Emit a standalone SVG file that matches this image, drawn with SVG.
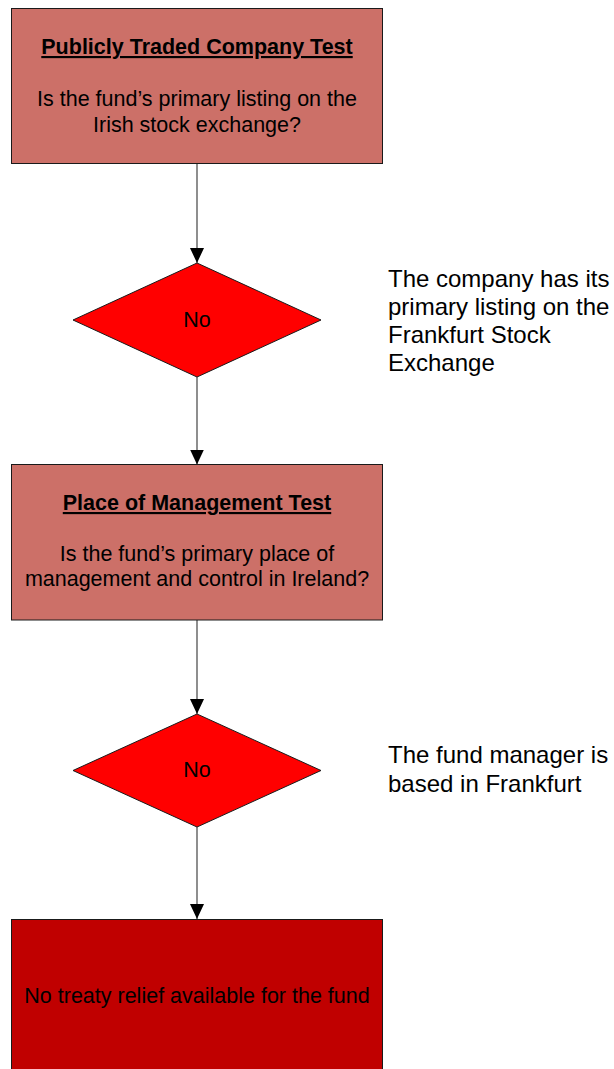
<svg xmlns="http://www.w3.org/2000/svg" width="614" height="1069" viewBox="0 0 614 1069">
<style>
text{font-family:"Liberation Sans",Arial,sans-serif;fill:#000}
.box{fill:#CC7068;stroke:#1a1a1a;stroke-width:1}
.dia{fill:#FF0000;stroke:#1a1a1a;stroke-width:1}
.t{font-size:21.5px;text-anchor:middle}
.h{font-weight:bold;text-decoration:underline}
.side{font-size:24px}
.con{stroke:#444;stroke-width:1.2;fill:none;marker-end:url(#ah)}
</style>
<defs>
<marker id="ah" markerUnits="userSpaceOnUse" markerWidth="15" markerHeight="14" refX="15" refY="7" orient="auto" viewBox="0 0 15 14">
<path d="M0,0 L15,7 L0,14 Z" fill="#000"/>
</marker>
</defs>
<rect width="614" height="1069" fill="#fff"/>
<g id="connectors">
<path class="con" d="M197,164 V263"/>
<path class="con" d="M197,377 V464.5"/>
<path class="con" d="M197,620 V714"/>
<path class="con" d="M197,827 V919"/>
</g>
<g id="box1">
<rect class="box" x="11.5" y="8.5" width="371" height="155"/>
<text class="t h" x="197" y="54">Publicly Traded Company Test</text>
<text class="t" x="197" y="106">Is the fund’s primary listing on the</text>
<text class="t" x="197" y="132">Irish stock exchange?</text>
</g>
<g id="dia1">
<polygon class="dia" points="197,263 321,320 197,377 73,320"/>
<text class="t" x="197" y="327">No</text>
</g>
<g id="note1">
<text class="side" x="388" y="287">The company has its</text>
<text class="side" x="388" y="315">primary listing on the</text>
<text class="side" x="388" y="343">Frankfurt Stock</text>
<text class="side" x="388" y="371">Exchange</text>
</g>
<g id="box2">
<rect class="box" x="11.5" y="464.5" width="371" height="155.5"/>
<text class="t h" x="197" y="510">Place of Management Test</text>
<text class="t" x="197" y="561">Is the fund’s primary place of</text>
<text class="t" x="197" y="586">management and control in Ireland?</text>
</g>
<g id="dia2">
<polygon class="dia" points="197,714 321,770.5 197,827 73,770.5"/>
<text class="t" x="197" y="777">No</text>
</g>
<g id="note2">
<text class="side" x="388" y="763">The fund manager is</text>
<text class="side" x="388" y="792">based in Frankfurt</text>
</g>
<g id="box3">
<rect x="11.5" y="919.5" width="371" height="160" fill="#C00000" stroke="#1a1a1a" stroke-width="1"/>
<text class="t" x="197" y="1003">No treaty relief available for the fund</text>
</g>
</svg>
